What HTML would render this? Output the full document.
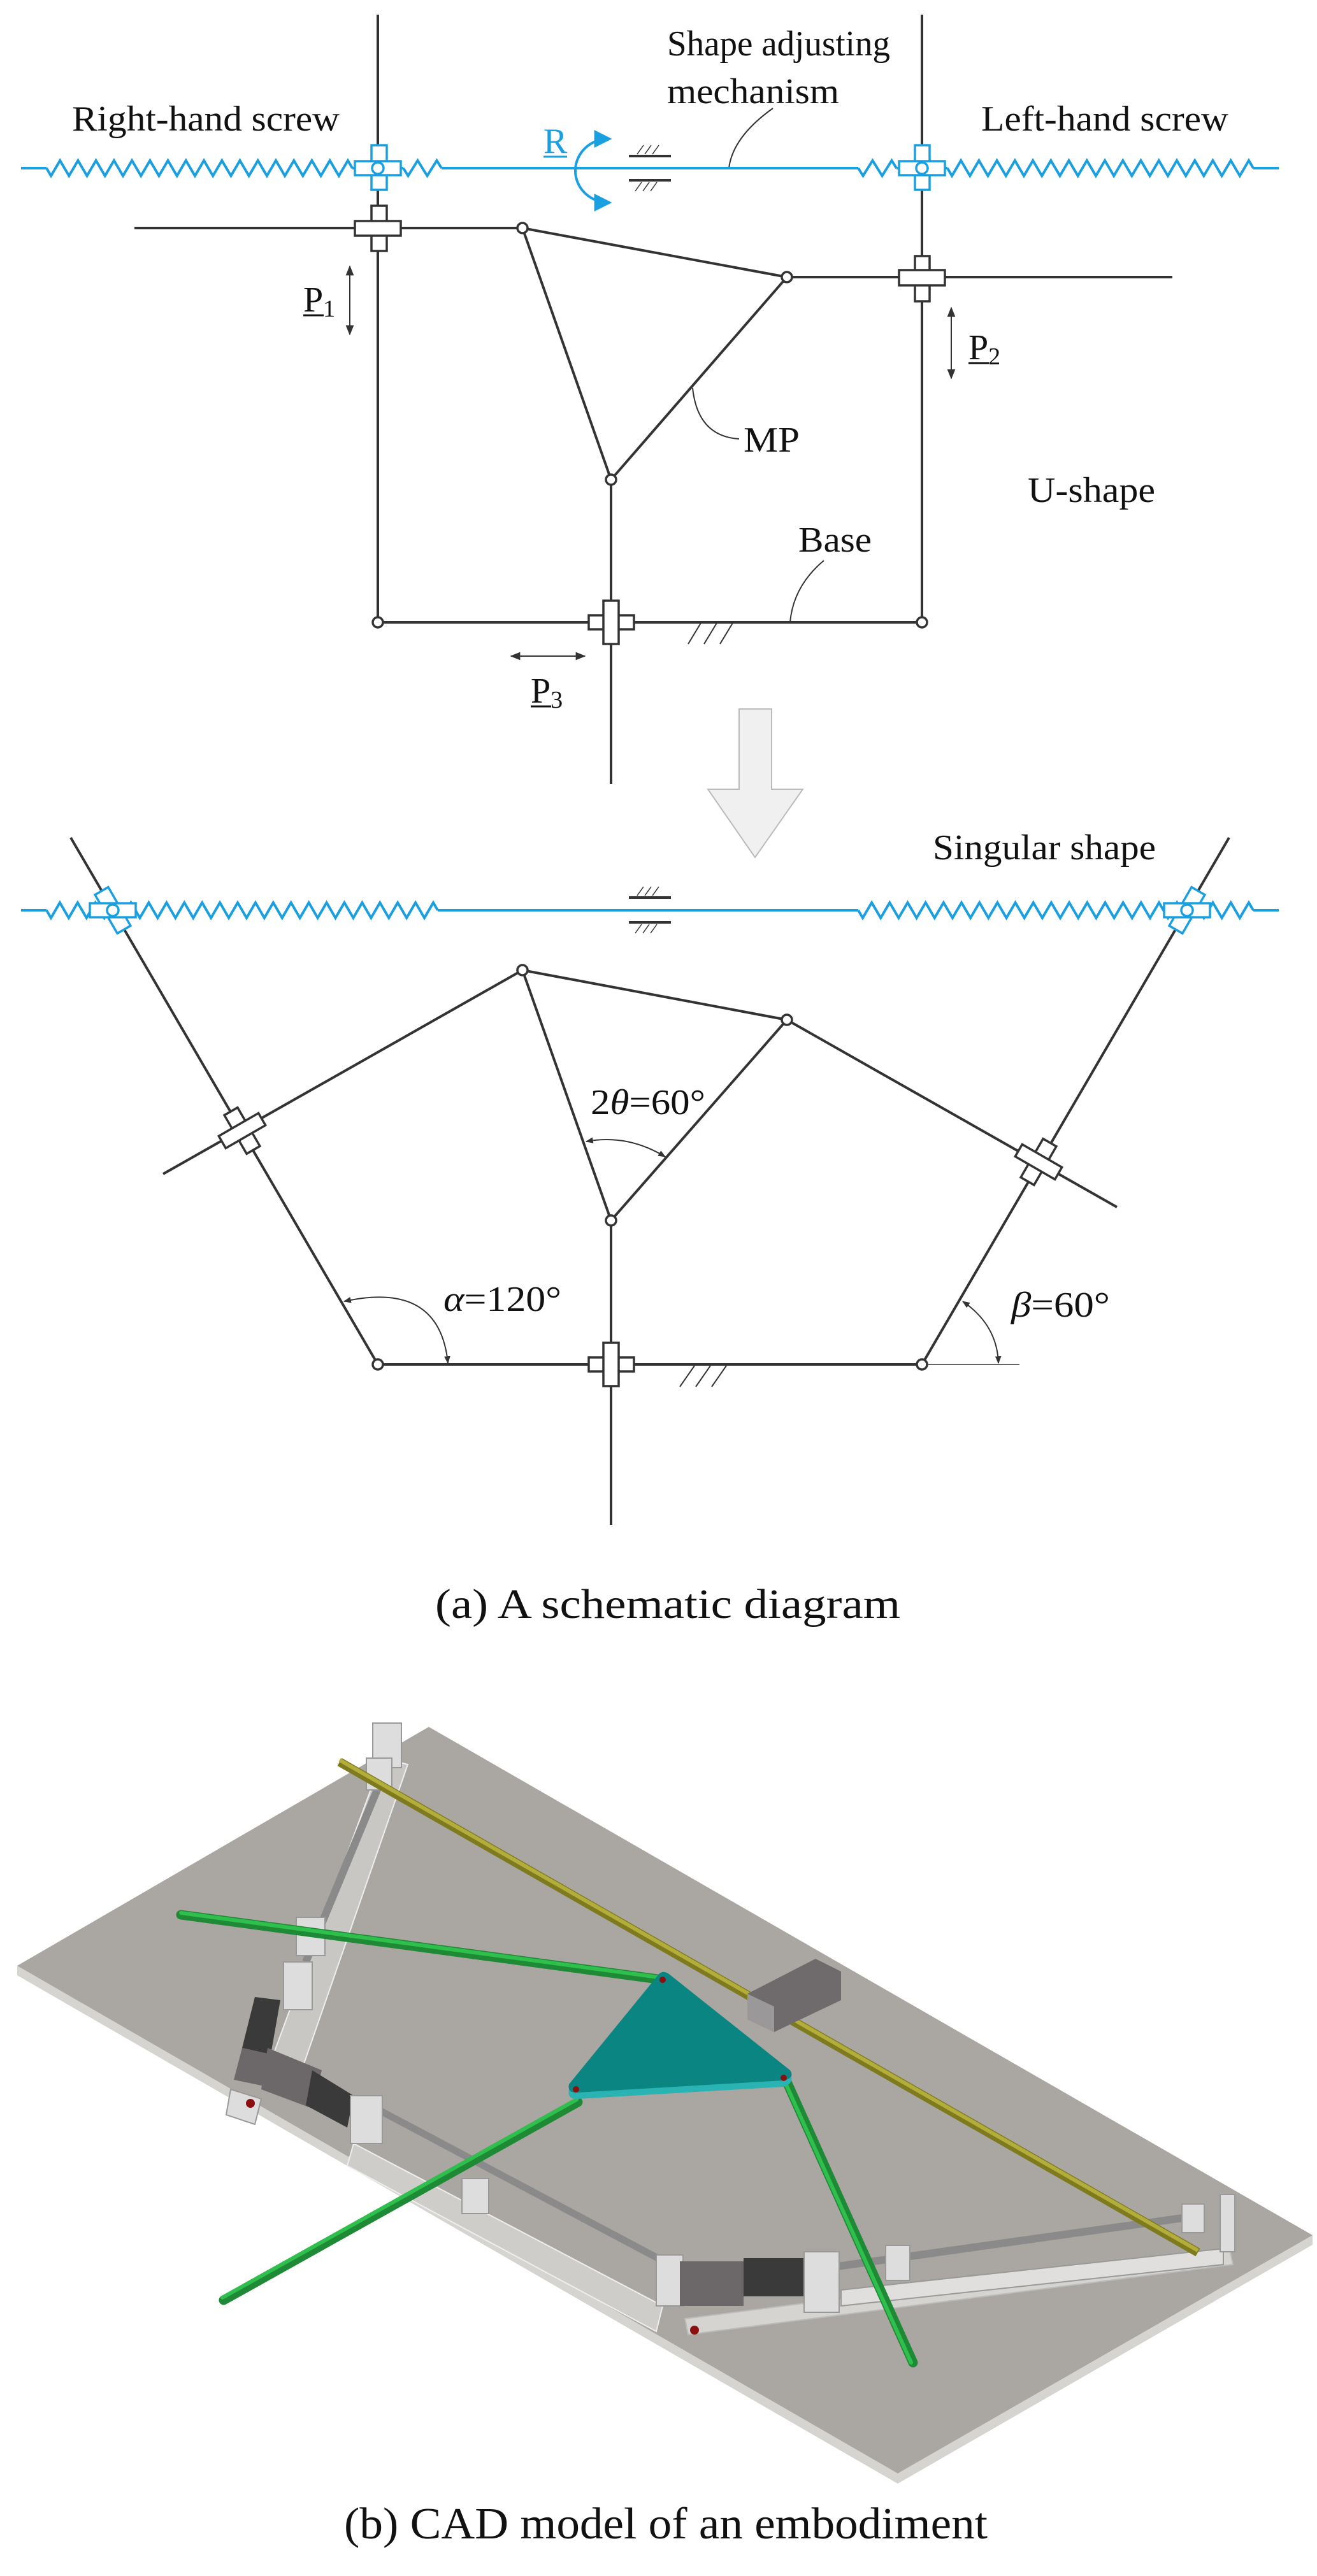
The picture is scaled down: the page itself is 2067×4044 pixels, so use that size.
<!DOCTYPE html>
<html><head><meta charset="utf-8"><style>
html,body{margin:0;padding:0;background:#fff}
svg{display:block}
text{font-family:"Liberation Serif",serif;fill:#111}
</style></head><body>
<svg id="s" width="2067" height="4044" viewBox="0 0 2067 4044" xmlns="http://www.w3.org/2000/svg">
<defs>
<marker id="ah" viewBox="0 0 10 10" refX="9" refY="5" markerWidth="8" markerHeight="8" orient="auto-start-reverse"><path d="M0,1 L10,5 L0,9 z" fill="#333"/></marker>
<marker id="ahs" viewBox="0 0 10 10" refX="9" refY="5" markerWidth="6" markerHeight="6" orient="auto-start-reverse"><path d="M0,1 L10,5 L0,9 z" fill="#333"/></marker>
<marker id="ab" viewBox="0 0 10 10" refX="8" refY="5" markerWidth="7" markerHeight="7" orient="auto-start-reverse"><path d="M0,0 L10,5 L0,10 z" fill="#1aa0e0"/></marker>
</defs>

<!-- ===== TOP: U-shape ===== -->
<g stroke="#333" stroke-width="4" fill="none">
<line x1="593" y1="23" x2="593" y2="977"/>
<line x1="1447" y1="23" x2="1447" y2="977"/>
<line x1="211" y1="358" x2="820" y2="358"/>
<line x1="1235" y1="435" x2="1840" y2="435"/>
<line x1="820" y1="358" x2="1235" y2="435"/>
<line x1="820" y1="358" x2="959" y2="753"/>
<line x1="1235" y1="435" x2="959" y2="753"/>
<line x1="959" y1="753" x2="959" y2="1231"/>
<line x1="593" y1="977" x2="1447" y2="977"/>
</g>
<g stroke="#333" stroke-width="2" fill="none">
<line x1="1080" y1="1011" x2="1100" y2="978"/><line x1="1105" y1="1011" x2="1125" y2="978"/><line x1="1130" y1="1011" x2="1150" y2="978"/>
<path d="M1293,880 Q1245,920 1240,977"/>
<path d="M1213,170 Q1150,215 1144,264"/>
<path d="M1087,609 Q1095,685 1160,689"/>
</g>
<g stroke="#333" stroke-width="3.5" fill="#fff">
<rect x="583" y="323" width="24" height="71"/><rect x="557" y="347" width="72" height="23"/>
<rect x="1436" y="402" width="23" height="71"/><rect x="1411" y="424" width="72" height="24"/>
<rect x="924" y="966" width="71" height="22"/><rect x="947" y="943" width="24" height="68"/>
</g>
<g stroke="#333" stroke-width="3.5" fill="#fff">
<circle cx="820" cy="358" r="8"/><circle cx="1235" cy="435" r="8"/><circle cx="959" cy="753" r="8"/>
<circle cx="593" cy="977" r="8"/><circle cx="1447" cy="977" r="8"/>
</g>
<g stroke="#333" stroke-width="2" fill="none">
<line x1="549" y1="418" x2="549" y2="525" marker-start="url(#ah)" marker-end="url(#ah)"/>
<line x1="1493" y1="483" x2="1493" y2="594" marker-start="url(#ah)" marker-end="url(#ah)"/>
<line x1="802" y1="1030" x2="918" y2="1030" marker-start="url(#ah)" marker-end="url(#ah)"/>
</g>
<g id="blueTop" stroke="#1aa0e0" stroke-width="4" fill="none"></g>
<g stroke="#1aa0e0" stroke-width="3.5" fill="#fff">
<rect x="583" y="228" width="24" height="70"/><rect x="557" y="253" width="72" height="22"/><circle cx="593" cy="264" r="9"/>
<rect x="1436" y="228" width="23" height="70"/><rect x="1411" y="253" width="72" height="22"/><circle cx="1447" cy="264" r="9"/>
</g>
<g stroke="#1aa0e0" stroke-width="4" fill="none">
<path d="M955,218 A52,50 0 1 0 955,318" marker-start="url(#ab)" marker-end="url(#ab)" />
</g>
<g stroke="#333" fill="none">
<line x1="987" y1="245" x2="1053" y2="245" stroke-width="4"/>
<line x1="987" y1="283" x2="1053" y2="283" stroke-width="4"/>
<g stroke-width="1.5"><line x1="1000" y1="242" x2="1010" y2="228"/><line x1="1012" y1="242" x2="1022" y2="228"/><line x1="1024" y1="242" x2="1034" y2="228"/>
<line x1="997" y1="300" x2="1007" y2="286"/><line x1="1009" y1="300" x2="1019" y2="286"/><line x1="1021" y1="300" x2="1031" y2="286"/></g>
</g>
<text x="113" y="205" font-size="56" textLength="420" lengthAdjust="spacingAndGlyphs">Right-hand screw</text>
<text x="1047" y="87" font-size="56" textLength="350" lengthAdjust="spacingAndGlyphs">Shape adjusting</text>
<text x="1047" y="162" font-size="56" textLength="270" lengthAdjust="spacingAndGlyphs">mechanism</text>
<text x="1540" y="205" font-size="56" textLength="388" lengthAdjust="spacingAndGlyphs">Left-hand screw</text>
<text x="853" y="240" font-size="56" style="fill:#1aa0e0">R</text>
<line x1="853" y1="246" x2="890" y2="246" stroke="#1aa0e0" stroke-width="3"/>
<text x="476" y="489" font-size="56">P<tspan font-size="38" dy="8">1</tspan></text>
<line x1="476" y1="495" x2="508" y2="495" stroke="#111" stroke-width="3"/>
<text x="1520" y="564" font-size="56">P<tspan font-size="38" dy="8">2</tspan></text>
<line x1="1520" y1="570" x2="1552" y2="570" stroke="#111" stroke-width="3"/>
<text x="833" y="1103" font-size="56">P<tspan font-size="38" dy="8">3</tspan></text>
<line x1="833" y1="1109" x2="865" y2="1109" stroke="#111" stroke-width="3"/>
<text x="1167" y="709" font-size="56" textLength="88" lengthAdjust="spacingAndGlyphs">MP</text>
<text x="1613" y="788" font-size="56" textLength="200" lengthAdjust="spacingAndGlyphs">U-shape</text>
<text x="1253" y="866" font-size="56" textLength="115" lengthAdjust="spacingAndGlyphs">Base</text>
<path d="M1160,1113 L1211,1113 L1211,1239 L1260,1239 L1185,1346 L1111,1239 L1160,1239 Z" fill="#f0f0f0" stroke="#bbb" stroke-width="2"/>

<!-- ===== Singular shape ===== -->
<g stroke="#333" stroke-width="4" fill="none">
<line x1="111" y1="1315" x2="593" y2="2142"/>
<line x1="1929" y1="1315" x2="1447" y2="2142"/>
<line x1="256" y1="1843" x2="820" y2="1523"/>
<line x1="820" y1="1523" x2="1235" y2="1601"/>
<line x1="1235" y1="1601" x2="1753" y2="1895"/>
<line x1="820" y1="1523" x2="959" y2="1916"/>
<line x1="1235" y1="1601" x2="959" y2="1916"/>
<line x1="959" y1="1916" x2="959" y2="2394"/>
<line x1="593" y1="2142" x2="1447" y2="2142"/>
</g>
<line x1="1447" y1="2142" x2="1600" y2="2142" stroke="#333" stroke-width="1.5"/>
<g stroke="#333" stroke-width="2" fill="none">
<line x1="1067" y1="2177" x2="1090" y2="2144"/><line x1="1092" y1="2177" x2="1115" y2="2144"/><line x1="1117" y1="2177" x2="1140" y2="2144"/>
<path d="M920,1792 Q985,1780 1044,1816" marker-start="url(#ahs)" marker-end="url(#ahs)"/>
<path d="M540,2043 Q690,2010 703,2140" marker-start="url(#ahs)" marker-end="url(#ahs)"/>
<path d="M1511,2043 Q1565,2080 1567,2140" marker-start="url(#ahs)" marker-end="url(#ahs)"/>
</g>
<g stroke="#333" stroke-width="3.5" fill="#fff">
<g transform="translate(380,1775) rotate(-30)"><rect x="-12" y="-35" width="24" height="70"/><rect x="-36" y="-11" width="72" height="22"/></g>
<g transform="translate(1630,1824) rotate(30)"><rect x="-12" y="-35" width="24" height="70"/><rect x="-36" y="-11" width="72" height="22"/></g>
<rect x="924" y="2131" width="71" height="22"/><rect x="947" y="2108" width="24" height="68"/>
<circle cx="820" cy="1523" r="8"/><circle cx="1235" cy="1601" r="8"/><circle cx="959" cy="1916" r="8"/>
<circle cx="593" cy="2142" r="8"/><circle cx="1447" cy="2142" r="8"/>
</g>
<g id="blueBot" stroke="#1aa0e0" stroke-width="4" fill="none"></g>
<g stroke="#1aa0e0" stroke-width="3.5" fill="#fff">
<g transform="translate(177,1429) rotate(-30)"><rect x="-12" y="-35" width="24" height="70"/></g>
<rect x="141" y="1418" width="72" height="22"/><circle cx="177" cy="1429" r="9"/>
<g transform="translate(1863,1429) rotate(30)"><rect x="-12" y="-35" width="24" height="70"/></g>
<rect x="1827" y="1418" width="72" height="22"/><circle cx="1863" cy="1429" r="9"/>
</g>
<g stroke="#333" fill="none">
<line x1="987" y1="1409" x2="1053" y2="1409" stroke-width="4"/>
<line x1="987" y1="1448" x2="1053" y2="1448" stroke-width="4"/>
<g stroke-width="1.5"><line x1="1000" y1="1406" x2="1010" y2="1392"/><line x1="1012" y1="1406" x2="1022" y2="1392"/><line x1="1024" y1="1406" x2="1034" y2="1392"/>
<line x1="997" y1="1465" x2="1007" y2="1451"/><line x1="1009" y1="1465" x2="1019" y2="1451"/><line x1="1021" y1="1465" x2="1031" y2="1451"/></g>
</g>
<text x="1464" y="1349" font-size="56" textLength="350" lengthAdjust="spacingAndGlyphs">Singular shape</text>
<text x="927" y="1749" font-size="56" textLength="180" lengthAdjust="spacingAndGlyphs">2<tspan font-style="italic">θ</tspan>=60°</text>
<text x="696" y="2058" font-size="56" textLength="185" lengthAdjust="spacingAndGlyphs"><tspan font-style="italic">α</tspan>=120°</text>
<text x="1587" y="2067" font-size="56" textLength="155" lengthAdjust="spacingAndGlyphs"><tspan font-style="italic">β</tspan>=60°</text>
<text x="683" y="2540" font-size="66" textLength="730" lengthAdjust="spacingAndGlyphs">(a) A schematic diagram</text>

<!-- ===== CAD ===== -->
<polygon points="27,3086 1409,3883 2060,3509 2060,3524 1409,3899 27,3101" fill="#d6d4d1"/>
<polygon points="673,2711 2060,3509 1409,3883 27,3086" fill="#aaa6a2"/>
<polygon points="600,2760 640,2770 470,3260 420,3250" fill="#c9c7c4" stroke="#eee" stroke-width="2"/>
<line x1="625" y1="2730" x2="480" y2="3080" stroke="#8a8a8a" stroke-width="12"/>
<rect x="585" y="2705" width="45" height="70" fill="#ddd" stroke="#999" stroke-width="2"/>
<rect x="575" y="2760" width="40" height="50" fill="#ddd" stroke="#999" stroke-width="2"/>
<rect x="465" y="3010" width="45" height="60" fill="#ddd" stroke="#999" stroke-width="2"/>
<rect x="445" y="3080" width="45" height="75" fill="#ddd" stroke="#999" stroke-width="2"/>
<polygon points="400,3135 440,3140 425,3225 380,3215" fill="#3a3a3a"/>
<polygon points="380,3215 425,3225 415,3275 367,3265" fill="#6c6769"/>
<polygon points="362,3280 410,3295 400,3335 355,3320" fill="#ddd" stroke="#999" stroke-width="2"/>
<circle cx="393" cy="3302" r="7" fill="#8b1010"/>
<polygon points="555,3365 1040,3620 1030,3660 545,3400" fill="#cfcdca" stroke="#eee" stroke-width="2"/>
<line x1="590" y1="3310" x2="1070" y2="3565" stroke="#8a8a8a" stroke-width="11"/>
<polygon points="420,3215 505,3250 490,3310 410,3280" fill="#6c6769"/>
<polygon points="490,3250 555,3290 545,3340 480,3305" fill="#3a3a3a"/>
<rect x="550" y="3290" width="50" height="75" fill="#ddd" stroke="#999" stroke-width="2"/>
<rect x="725" y="3420" width="42" height="55" fill="#ddd" stroke="#999" stroke-width="2"/>
<rect x="1030" y="3540" width="42" height="80" fill="#ddd" stroke="#999" stroke-width="2"/>
<polygon points="1075,3640 1930,3530 1935,3555 1080,3665" fill="#d6d4d1" stroke="#bbb" stroke-width="2"/>
<polygon points="1320,3595 1920,3530 1920,3555 1320,3620" fill="#e0dfdd" stroke="#999" stroke-width="2"/>
<line x1="1300" y1="3560" x2="1870" y2="3480" stroke="#8a8a8a" stroke-width="12"/>
<rect x="1067" y="3550" width="100" height="70" fill="#6c6769"/>
<rect x="1167" y="3545" width="95" height="60" fill="#3a3a3a"/>
<rect x="1262" y="3535" width="55" height="95" fill="#ddd" stroke="#999" stroke-width="2"/>
<rect x="1390" y="3525" width="38" height="55" fill="#ddd" stroke="#999" stroke-width="2"/>
<rect x="1915" y="3445" width="23" height="90" fill="#ddd" stroke="#999" stroke-width="2"/>
<rect x="1855" y="3460" width="35" height="45" fill="#ddd" stroke="#999" stroke-width="2"/>
<circle cx="1090" cy="3658" r="7" fill="#8b1010"/>
<line x1="533" y1="2766" x2="1880" y2="3536" stroke="#7e7b1e" stroke-width="14"/>
<line x1="533" y1="2763" x2="1880" y2="3533" stroke="#b3ae3c" stroke-width="6"/>
<polygon points="1173,3130 1280,3075 1320,3095 1320,3140 1215,3190 1173,3170" fill="#6f6b6d"/>
<polygon points="1173,3130 1215,3150 1215,3190 1173,3170" fill="#9a9899"/>
<g stroke="#1e8a35" stroke-width="15" stroke-linecap="round">
<line x1="284" y1="3006" x2="1040" y2="3108"/>
<line x1="351" y1="3611" x2="907" y2="3300"/>
<line x1="1233" y1="3264" x2="1433" y2="3709"/>
</g>
<g stroke="#2fbf4d" stroke-width="6" stroke-linecap="round">
<line x1="284" y1="3003" x2="1040" y2="3105"/>
<line x1="349" y1="3607" x2="905" y2="3296"/>
<line x1="1230" y1="3264" x2="1430" y2="3709"/>
</g>
<path d="M1035,3103 Q1042,3098 1050,3104 L1240,3255 Q1248,3270 1230,3276 L906,3295 Q890,3296 893,3280 Z" fill="#2ab3b3"/>
<path d="M1035,3098 Q1042,3093 1050,3099 L1240,3250 Q1248,3262 1230,3266 L906,3285 Q890,3286 893,3272 Z" fill="#0b8581"/>
<circle cx="1040" cy="3108" r="5" fill="#8b1010"/><circle cx="1230" cy="3262" r="5" fill="#8b1010"/><circle cx="904" cy="3280" r="5" fill="#8b1010"/>
<text x="540" y="3985" font-size="70" textLength="1010" lengthAdjust="spacingAndGlyphs">(b) CAD model of an embodiment</text>
</svg>
<script>
function zig(x0,x1,y,n,amp){var d="M"+x0+","+y;var p=(x1-x0)/n;for(var i=0;i<n;i++){d+=" L"+(x0+p*(i+0.25))+","+(y+amp)+" L"+(x0+p*(i+0.75))+","+(y-amp);}d+=" L"+x1+","+y;return d;}
function seg(g,y){var ns="http://www.w3.org/2000/svg";var ds=["M33,"+y+" L73,"+y, zig(73,553,y,17,12),"M553,"+y+" L633,"+y, zig(633,693,y,2,12),"M693,"+y+" L1347,"+y, zig(1347,1407,y,2,12),"M1407,"+y+" L1487,"+y, zig(1487,1967,y,17,12),"M1967,"+y+" L2007,"+y];
ds.forEach(function(d){var p=document.createElementNS(ns,"path");p.setAttribute("d",d);g.appendChild(p);});}
seg(document.getElementById("blueTop"),264);
(function(){var g=document.getElementById("blueBot"),y=1429,ns="http://www.w3.org/2000/svg";
var ds=["M33,"+y+" L73,"+y, zig(73,687,y,22,12),"M687,"+y+" L1347,"+y, zig(1347,1967,y,22,12),"M1967,"+y+" L2007,"+y];
ds.forEach(function(d){var p=document.createElementNS(ns,"path");p.setAttribute("d",d);g.appendChild(p);});})();
</script>
</body></html>
